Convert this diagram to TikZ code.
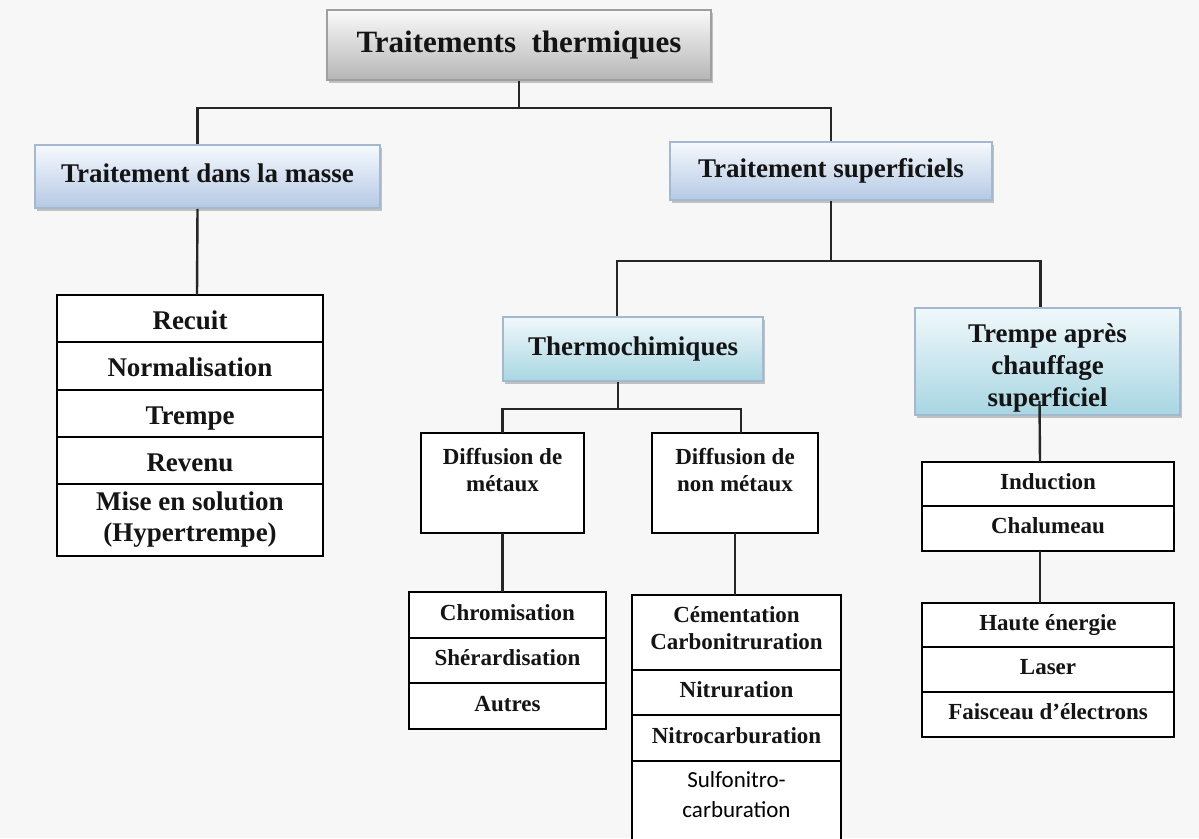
\documentclass[tikz,border=0pt]{standalone}
\usepackage{fontspec}
\setmainfont{Liberation Serif}
\newfontfamily\calibfont{Carlito}
\usepackage{tikz}
\usetikzlibrary{positioning,shadows}
\definecolor{paper}{HTML}{F7F7F7}
\definecolor{bluetop}{HTML}{F6F9FD}
\definecolor{bluebot}{HTML}{B5C9E4}
\definecolor{tealtop}{HTML}{F0F8FB}
\definecolor{tealbot}{HTML}{A8D6E2}
\definecolor{blueline}{HTML}{A3B9D2}

\begin{document}
\begin{tikzpicture}[x=1pt, y=-1pt,
  node distance=0pt,
  grad/.style={draw=blueline, line width=1.6pt, top color=bluetop, bottom color=bluebot, inner sep=0pt, align=center,
    text=black!92, font=\fontsize{27}{32}\selectfont\bfseries,
    drop shadow={shadow xshift=2pt, shadow yshift=-3pt, opacity=.45}},
  tealgrad/.style={grad, top color=tealtop, bottom color=tealbot},
  cellbase/.style={draw, line width=2pt, fill=white, inner sep=0pt, outer sep=0pt, align=center, text=black!92},
  cell/.style={cellbase, font=\fontsize{27}{31}\selectfont\bfseries, execute at begin node=\rule[-6pt]{0pt}{33pt}},
  smallcell/.style={cellbase, font=\fontsize{23}{27}\selectfont\bfseries, execute at begin node=\strut},
  plaincell/.style={cellbase, font=\fontsize{23}{27}\selectfont\bfseries},
  conn/.style={line width=2.4pt, black!85}]
  \fill[paper] (0,0) rectangle (1199,838);
  \useasboundingbox (0,0) rectangle (1199,838);
  % title
  \node[grad, draw=gray!75, top color=gray!4, bottom color=gray!58, minimum width=384pt, minimum height=70pt,
    font=\fontsize{31}{36}\selectfont\bfseries] (ttl) at (519,45) {Traitements~~thermiques};
  % second level
  \node[grad, minimum width=345pt, minimum height=63pt] (masse) at (207.5,176.5) {Traitement dans la masse\rule[-6pt]{0pt}{6pt}};
  \node[grad, minimum width=322pt, minimum height=58pt] (sup) at (831,171) {Traitement superficiels};
  \draw[conn] (ttl.south) -- ++(0,27) coordinate (j0);
  \draw[conn] (j0) -| ([xshift=-10pt]masse.north);
  \draw[conn] (j0) -| (sup.north);
  % traitement dans la masse
  \begin{scope}[every node/.append style={minimum width=266pt}]
    \node[cell, minimum height=47pt] (recuit) at (190,318.5) {Recuit};
    \node[cell, minimum height=48pt, below=of recuit] (norm) {Normalisation};
    \node[cell, minimum height=47pt, below=of norm] (trempe1) {Trempe};
    \node[cell, minimum height=47pt, below=of trempe1] (revenu) {Revenu};
    \node[cell, minimum height=72pt, below=of revenu] (mise) {Mise en solution\\(Hypertrempe)};
  \end{scope}
  \draw[conn] ([xshift=-10pt]masse.south) -- ([xshift=7pt]recuit.north);
  % traitements superficiels
  \node[tealgrad, minimum width=260pt, minimum height=64pt] (thermo) at (633,349) {Thermochimiques};
  \node[tealgrad, minimum width=265pt, minimum height=107pt, font=\fontsize{27}{32}\selectfont\bfseries]
    (trempe) at (1047.5,361.5) {\rule{0pt}{32pt}Trempe après\\chauffage\\superficiel};
  \draw[conn] (sup.south) -- ++(0,60) coordinate (j1);
  \draw[conn] (j1) -| ([xshift=-16pt]thermo.north);
  \draw[conn] (j1) -| ([xshift=-7pt]trempe.north);
  % thermochimiques
  \node[plaincell, minimum width=163pt, minimum height=100pt] (difmet) at (502.5,483) {Diffusion de\\métaux\\\mbox{}};
  \node[plaincell, minimum width=166pt, minimum height=100pt] (difnon) at (735,483) {Diffusion de\\non métaux\\\mbox{}};
  \draw[conn] ([xshift=-15pt]thermo.south) -- ++(0,27) coordinate (j2);
  \draw[conn] (j2) -| (difmet.north);
  \draw[conn] (j2) -| ([xshift=6pt]difnon.north);
  \begin{scope}[every node/.append style={minimum width=197pt}]
    \node[smallcell, minimum height=46pt] (chrom) at (507.5,615) {Chromisation};
    \node[smallcell, minimum height=45pt, below=of chrom] (sherard) {Shérardisation};
    \node[smallcell, minimum height=46pt, below=of sherard] (autres) {Autres};
  \end{scope}
  \begin{scope}[every node/.append style={minimum width=209pt}]
    \node[smallcell, minimum height=75pt] (cem) at (736.5,632.5) {Cémentation\\Carbonitruration};
    \node[smallcell, minimum height=45pt, below=of cem] (nitru) {Nitruration};
    \node[smallcell, minimum height=46pt, below=of nitru] (nitroc) {Nitrocarburation};
    \node[plaincell, minimum height=98pt, below=of nitroc, font=\fontsize{23}{30}\selectfont\calibfont, text=black]
      (sulfo) {Sulfonitro-\\carburation\\\mbox{}};
  \end{scope}
  \draw[conn] (difmet.south) -- (difmet.south |- chrom.north);
  \draw[conn] (difnon.south) -- (difnon.south |- cem.north);
  % trempe apres chauffage superficiel
  \begin{scope}[every node/.append style={minimum width=252pt}]
    \node[smallcell, minimum height=44pt] (induc) at (1048,484) {Induction};
    \node[smallcell, minimum height=45pt, below=of induc] (chal) {Chalumeau};
    \node[smallcell, minimum height=44pt] (haute) at (1048,625) {Haute énergie};
    \node[smallcell, minimum height=45pt, below=of haute] (laser) {Laser};
    \node[smallcell, minimum height=45pt, below=of laser] (faisc) {Faisceau d’électrons};
  \end{scope}
  \draw[conn] ([xshift=-8pt, yshift=15pt]trempe.south) -- ([xshift=-8pt]induc.north);
  \draw[conn] ([xshift=-8pt]chal.south) -- ([xshift=-8pt]haute.north);
\end{tikzpicture}
\end{document}
